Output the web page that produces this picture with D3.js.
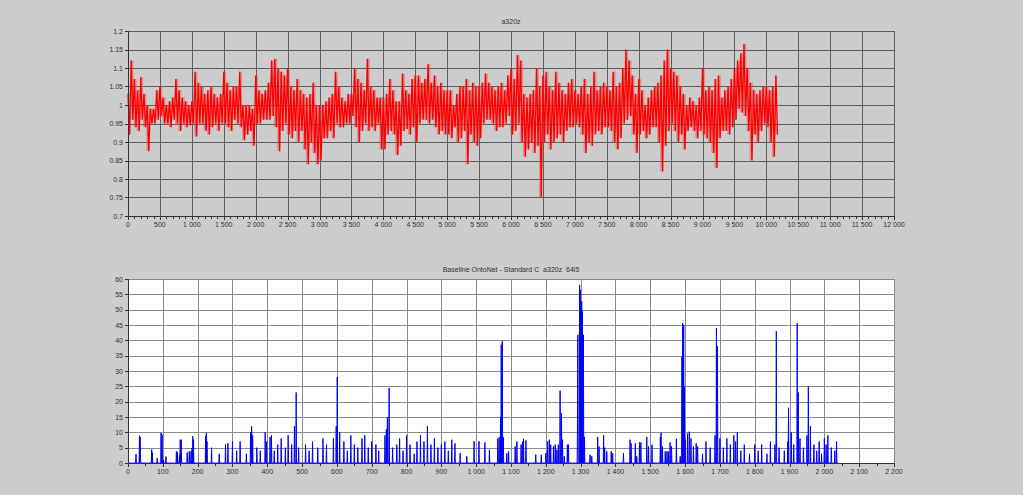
<!DOCTYPE html>
<html><head><meta charset="utf-8">
<script src="https://cdn.jsdelivr.net/npm/d3@7"></script>
<style>
body{margin:0;background:#cccccc;}
svg{display:block;font-family:"Liberation Sans",Arial,sans-serif;}
</style>
</head><body>
<svg id="c" width="1023" height="495"></svg>
<script>
// ---------- DATA ----------
const topTitle = "a320z";
const bottomTitle = "Baseline OntoNet - Standard C  a320z  64i5";

// top series: local high / low per 50-sample bin
const topBin = 50;
const topHi = [
 1.03,1.12,1.07,1.04,1.075,1.03,1.0,0.99,0.99,1.04,
 1.05,1.02,1.0,1.01,1.02,1.07,1.04,1.02,1.01,1.0,
 1.01,1.09,1.06,1.05,1.03,1.04,1.05,1.03,1.02,1.03,
 1.09,1.06,1.04,1.05,1.05,1.09,1.0,1.0,1.0,0.99,
 1.08,1.04,1.03,1.04,1.06,1.12,1.125,1.1,1.09,1.08,
 1.1,1.05,1.04,1.07,1.04,1.03,1.02,1.03,1.06,1.0,
 1.0,1.0,1.01,1.02,1.03,1.09,1.05,1.02,1.01,1.03,
 1.03,1.1,1.07,1.06,1.04,1.125,1.05,1.04,1.02,1.02,
 1.02,1.03,1.07,1.04,1.01,1.01,1.085,1.04,1.03,1.07,
 1.08,1.08,1.06,1.07,1.11,1.06,1.08,1.05,1.06,1.04,
 1.04,1.04,1.0,1.03,1.05,1.05,1.07,1.04,1.06,1.05,
 1.05,1.06,1.085,1.06,1.05,1.04,1.05,1.06,1.04,1.08,
 1.1,1.07,1.135,1.12,1.03,1.02,1.03,1.04,1.1,1.05,
 1.08,1.09,1.05,1.04,1.09,1.06,1.04,1.03,1.06,1.07,
 1.04,1.03,1.05,1.07,1.03,1.05,1.09,1.04,1.05,1.06,
 1.05,1.04,1.09,1.05,1.06,1.1,1.15,1.12,1.08,1.03,
 1.07,1.04,1.0,1.02,1.04,1.05,1.06,1.08,1.12,1.15,
 1.1,1.09,1.08,1.05,1.03,1.0,1.02,1.01,1.0,1.02,
 1.1,1.04,1.05,1.04,1.07,1.08,1.02,1.04,1.05,1.07,
 1.1,1.12,1.14,1.165,1.1,1.06,1.04,1.03,1.04,1.05,
 1.05,1.04,1.05,1.08
];
const topLo = [
 0.92,0.96,0.94,0.93,0.96,0.94,0.875,0.95,0.95,0.96,
 0.97,0.95,0.95,0.94,0.96,0.95,0.93,0.95,0.94,0.945,
 0.95,0.915,0.95,0.95,0.93,0.92,0.94,0.95,0.93,0.95,
 0.95,0.94,0.93,0.96,0.95,0.94,0.905,0.92,0.93,0.89,
 0.95,0.95,0.96,0.96,0.96,0.97,0.94,0.875,0.93,0.95,
 0.92,0.91,0.93,0.9,0.93,0.88,0.84,0.9,0.87,0.84,
 0.85,0.91,0.91,0.93,0.91,0.95,0.94,0.94,0.95,0.95,
 0.97,0.94,0.9,0.93,0.95,0.93,0.94,0.93,0.95,0.88,
 0.88,0.92,0.93,0.92,0.865,0.89,0.93,0.935,0.92,0.94,
 0.9,0.95,0.96,0.96,0.95,0.96,0.94,0.92,0.93,0.92,
 0.92,0.91,0.94,0.9,0.91,0.93,0.84,0.92,0.9,0.89,
 0.91,0.95,0.96,0.96,0.95,0.93,0.94,0.94,0.95,0.97,
 0.92,0.93,0.95,0.9,0.86,0.88,0.9,0.87,0.89,0.75,
 0.9,0.92,0.88,0.9,0.91,0.92,0.9,0.93,0.94,0.94,
 0.95,0.94,0.92,0.87,0.9,0.89,0.92,0.93,0.92,0.94,
 0.94,0.93,0.9,0.88,0.91,0.95,0.96,0.97,0.92,0.87,
 0.92,0.93,0.91,0.92,0.94,0.94,0.9,0.82,0.89,0.93,
 0.95,0.93,0.9,0.92,0.88,0.93,0.94,0.93,0.91,0.93,
 0.92,0.91,0.9,0.87,0.83,0.91,0.93,0.93,0.92,0.94,
 0.96,0.99,0.98,0.97,0.93,0.85,0.92,0.9,0.93,0.95,
 0.94,0.9,0.86,0.92
];

// bottom series: non-zero samples (index, value); all other samples are 0
const botLength = 2040;
const spikeX = [23,33,35,36,68,70,84,95,98,102,109,139,142,148,150,153,170,176,181,184,186,188,223,225,227,
 240,262,280,287,300,312,322,340,352,355,358,370,380,394,398,408,412,420,430,440,452,460,470,478,483,490,
 510,520,530,545,560,570,590,598,601,608,620,630,640,650,660,672,680,690,700,712,720,738,742,745,750,760,
 772,780,790,800,810,822,830,840,850,860,870,880,890,900,910,920,
 930,939,954,973,994,1008,1025,1038,1062,1066,1070,1072,1074,1075,1078,1088,1093,1112,1117,1129,1133,1136,1143,
 1171,1187,1200,1205,1210,1214,1222,1227,1232,1236,1241,1245,1248,1253,1262,1265,
 1291,1292,1297,1299,1301,1303,1305,1308,1311,1327,1332,1349,1353,1366,1369,1375,1388,1392,
 1423,1442,1445,1457,1461,1469,1473,1490,1495,1505,1529,1531,1535,1543,1548,1552,1557,1561,1575,1586,
 1591,1593,1596,1598,1600,1607,1612,1617,1624,1632,1636,
 1650,1660,1672,1686,1690,1693,1700,1710,1720,1730,1740,1745,1750,1760,1770,1785,1800,1810,1820,1835,1845,
 1858,1862,1870,1885,1895,1897,1905,1912,1922,1925,1930,1940,1950,1954,1960,1970,1978,1985,1992,2000,2005,
 2010,2020,2030,2035];
const spikeY = [2.9,8.9,8.4,1.6,4.4,3.4,1.6,9.8,9.2,1.0,2.1,3.8,3.5,2.7,7.6,7.6,3.4,3.8,3.8,4.9,8.7,7.6,8.7,9.8,7.0,
 5,3,6,6.5,7,4,7,3,10,12,9,5,4,10,7,8.5,9,4,6,8,5,9,6,12,23,5,
 6,4,7,5,8,6,8,12,28,10,7,4,9,6,5,8,9,5,7,6,4,9,11,15,24.5,5,
 6,8,4,9,6,3,7,9,7,12,6,8,5,6,7,4,
 7.6,6.4,3.2,2.2,7.1,7.1,6.7,4.3,7.9,8.4,15,38.6,24,39.7,8.4,3.2,3.8,5.4,7,6,7,7.9,7.4,
 2.7,2.7,3.2,7,7.6,6,5.4,6,4.3,6,23.6,16.3,7.6,2.2,6,6,
 14,41.8,58.1,56.5,51,52.7,49.5,41.8,8.5,2.7,2.2,8.5,5.4,9,5,3.8,3.8,3.2,
 3.2,7.6,6.4,6.4,2.2,6.7,6.7,8.5,5.4,6,8.5,9.9,5.4,3.8,3.8,3.8,6.7,5.4,7.9,2.2,
 34.8,45.6,45,25,7.6,9.6,10.2,8,5.4,6.4,5.4,
 3,7,5,9,44,38,8,5,8,6,9,7,10,4,6,3,6,4,6,3,7,
 6,43,5,4,7,18,10,6,45.6,23,8,5,9,25,12,6,4,7,3,8,6,
 9,5,4,7];

const topXTicks = [0,500,1000,1500,2000,2500,3000,3500,4000,4500,5000,5500,6000,6500,7000,7500,8000,8500,9000,9500,10000,10500,11000,11500,12000];
const topYTicks = [0.7,0.75,0.8,0.85,0.9,0.95,1,1.05,1.1,1.15,1.2];
const topYLabels = ["0.7","0.75","0.8","0.85","0.9","0.95","1","1.05","1.1","1.15","1.2"];
const botXTicks = [0,100,200,300,400,500,600,700,800,900,1000,1100,1200,1300,1400,1500,1600,1700,1800,1900,2000,2100,2200];
const botYTicks = [0,5,10,15,20,25,30,35,40,45,50,55,60];

// ---------- DRAW ----------
const svg = d3.select("#c");
const fmtK = n => n >= 1000 ? Math.floor(n/1000) + "\u00a0" + String(n % 1000).padStart(3, "0") : String(n);
const axisCol = "#333", txtCol = "#333", fs = 7;

function panel(opt) {
  const {x, y, xTicks, yTicks, bg, title, titleY} = opt;
  const g = svg.append("g");
  const [x0, x1] = x.range(), [y0, y1] = y.range();
  if (bg) g.append("rect").attr("x", x0).attr("y", y1).attr("width", x1 - x0).attr("height", y0 - y1).attr("fill", bg);
  g.append("text").attr("x", (x0 + x1) / 2).attr("y", titleY).attr("text-anchor", "middle")
    .attr("font-size", fs).attr("fill", txtCol).style("white-space", "pre").text(title);
  const grid = g.append("g").attr("stroke", opt.grid).attr("stroke-width", 1).attr("shape-rendering", "crispEdges");
  xTicks.forEach(t => grid.append("line").attr("x1", Math.round(x(t)) + 0.5).attr("x2", Math.round(x(t)) + 0.5).attr("y1", y1).attr("y2", y0));
  yTicks.forEach(t => grid.append("line").attr("y1", Math.round(y(t)) + 0.5).attr("y2", Math.round(y(t)) + 0.5).attr("x1", x0).attr("x2", x1));
  return g;
}

function axes(g, opt) {
  const {x, y, xTicks, xMinor, yTicks, yLabels} = opt;
  const [x0, x1] = x.range(), [y0, y1] = y.range();
  const a = g.append("g").attr("shape-rendering", "crispEdges");
  a.append("line").attr("x1", x0 + 0.5).attr("x2", x0 + 0.5).attr("y1", y1).attr("y2", y0 + 0.5).attr("stroke", axisCol);
  a.append("line").attr("x1", x0).attr("x2", x1 + 0.5).attr("y1", Math.round(y0) + 0.5).attr("y2", Math.round(y0) + 0.5).attr("stroke", axisCol);
  xMinor.forEach(t => a.append("line").attr("x1", Math.round(x(t)) + 0.5).attr("x2", Math.round(x(t)) + 0.5)
    .attr("y1", Math.round(y0)).attr("y2", Math.round(y0) + 2.5).attr("stroke", axisCol));
  xTicks.forEach(t => {
    a.append("line").attr("x1", Math.round(x(t)) + 0.5).attr("x2", Math.round(x(t)) + 0.5)
      .attr("y1", Math.round(y0)).attr("y2", Math.round(y0) + 4).attr("stroke", axisCol);
    g.append("text").attr("x", x(t)).attr("y", y0 + 11).attr("text-anchor", "middle")
      .attr("font-size", fs).attr("fill", txtCol).text(fmtK(t));
  });
  yTicks.forEach((t, i) => {
    a.append("line").attr("x1", x0 - 3).attr("x2", x0).attr("y1", Math.round(y(t)) + 0.5).attr("y2", Math.round(y(t)) + 0.5).attr("stroke", axisCol);
    g.append("text").attr("x", x0 - 5).attr("y", y(t) + 2.5).attr("text-anchor", "end")
      .attr("font-size", fs).attr("fill", txtCol).text(yLabels[i]);
  });
}

// top panel
const xT = d3.scaleLinear().domain([0, 12000]).range([128, 894]);
const yT = d3.scaleLinear().domain([0.7, 1.2]).range([216, 31]);
const topMinor = [];
topXTicks.slice(0, -1).forEach(t => { for (let k = 1; k < 5; k++) topMinor.push(t + k * 100); });
const optT = {x: xT, y: yT, xTicks: topXTicks, xMinor: topMinor, yTicks: topYTicks, yLabels: topYLabels, bg: null, grid: "#5e5e5e", title: topTitle, titleY: 24};
const gT = panel(optT);
const topBins = topHi.map((h, i) => ({u: i * topBin, hi: h, lo: topLo[i]}));
gT.append("path").datum(topBins)
  .attr("d", d3.area().x(d => xT(d.u + topBin / 4)).y0(d => yT(d.lo)).y1(d => yT(d.hi)).curve(d3.curveStep))
  .attr("fill", "#ee4444").attr("fill-opacity", 0.45);
const topPts = [];
topBins.forEach(d => { topPts.push([d.u, d.hi]); topPts.push([d.u + topBin / 2, d.lo]); });
gT.append("path").datum(topPts)
  .attr("d", d3.line().x(d => xT(d[0])).y(d => yT(d[1])))
  .attr("fill", "none").attr("stroke", "#ff0000").attr("stroke-width", 1.3).attr("stroke-linejoin", "miter");
axes(gT, optT);

// bottom panel
const xB = d3.scaleLinear().domain([0, 2200]).range([128, 894]);
const yB = d3.scaleLinear().domain([0, 60]).range([463, 279]);
const botMinor = botXTicks.slice(0, -1).map(t => t + 50);
const optB = {x: xB, y: yB, xTicks: botXTicks, xMinor: botMinor, yTicks: botYTicks, yLabels: botYTicks.map(String), bg: "#ffffff", grid: "#8a8a8a", title: bottomTitle, titleY: 272};
const gB = panel(optB);
const botVals = new Array(botLength + 1).fill(0);
spikeX.forEach((sx, i) => { botVals[sx] = spikeY[i]; });
gB.append("path").datum(botVals)
  .attr("d", d3.line().x((d, i) => xB(i)).y(d => yB(d)))
  .attr("fill", "none").attr("stroke", "#0000ff").attr("stroke-width", 1);
axes(gB, optB);
</script>
</body></html>
